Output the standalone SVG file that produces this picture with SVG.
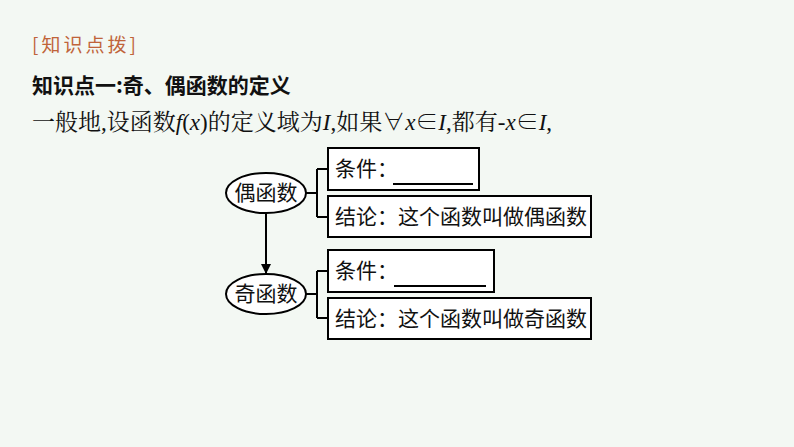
<svg xmlns="http://www.w3.org/2000/svg" width="794" height="447" viewBox="0 0 794 447">
<style>
.b{fill:#fff;stroke:#000;stroke-width:2}
.t{font-family:"Noto Sans CJK SC",sans-serif;font-size:21px;fill:#111}
.s{font-family:"Liberation Serif","Noto Serif CJK SC","Noto Sans CJK SC",serif;font-size:23px;fill:#111}
.l{stroke:#000;stroke-width:2;fill:none}
</style>
<defs><marker id="a" markerWidth="10" markerHeight="10" refX="9" refY="5" orient="auto" markerUnits="userSpaceOnUse"><path d="M0,0L10,5L0,10z" fill="#000"/></marker></defs>
<rect width="794" height="447" fill="#f3f8f3"/>
<text x="32" y="52" font-family="Noto Sans CJK SC,sans-serif" font-size="19" fill="#c0643a" letter-spacing="3">[知识点拨]</text>
<text x="32" y="93" class="t" font-weight="bold" font-size="22">知识点一:奇、偶函数的定义</text>
<text x="32" y="130" class="s">一般地,设函数<tspan font-style="italic">f</tspan>(<tspan font-style="italic">x</tspan>)的定义域为<tspan font-style="italic">I</tspan>,如果∀<tspan font-style="italic">x</tspan>∈<tspan font-style="italic">I</tspan>,都有-<tspan font-style="italic">x</tspan>∈<tspan font-style="italic">I</tspan>,</text>
<g id="connectors">
<path class="l" d="M306,193H317M317,169V217M317,169H328M317,217H328"/>
<path class="l" d="M306,294H317M317,271V318M317,271H328M317,318H328"/>
<path class="l" d="M266,213V273" marker-end="url(#a)"/>
</g>
<g id="even"><ellipse class="b" cx="266" cy="193" rx="40" ry="20"/><text class="t" x="266" y="200" text-anchor="middle">偶函数</text></g>
<g id="odd"><ellipse class="b" cx="266" cy="294" rx="40" ry="20"/><text class="t" x="266" y="301" text-anchor="middle">奇函数</text></g>
<g id="c1"><rect class="b" x="328" y="148" width="151" height="42"/><text class="t" x="335" y="176">条件：</text><path class="l" d="M393,184H473"/></g>
<g id="r1"><rect class="b" x="328" y="196" width="263" height="41"/><text class="t" x="335" y="224">结论：这个函数叫做偶函数</text></g>
<g id="c2"><rect class="b" x="328" y="250" width="166" height="42"/><text class="t" x="335" y="278">条件：</text><path class="l" d="M394,286H486"/></g>
<g id="r2"><rect class="b" x="328" y="298" width="263" height="41"/><text class="t" x="335" y="326">结论：这个函数叫做奇函数</text></g>
</svg>
